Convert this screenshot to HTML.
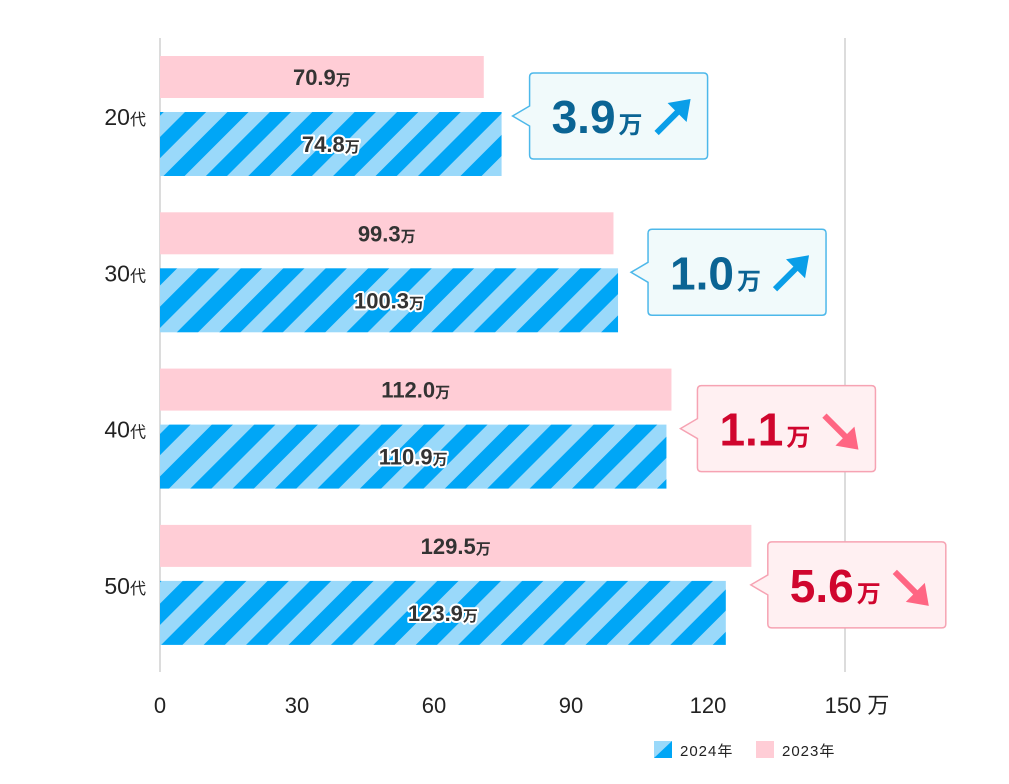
<!DOCTYPE html>
<html><head><meta charset="utf-8"><style>
html,body{margin:0;padding:0;background:#fff;}
svg{display:block;font-family:"Liberation Sans","Noto Sans CJK JP",sans-serif;}
</style></head><body>
<svg id="chart" width="1009" height="784" viewBox="0 0 1009 784">
<defs>
<pattern id="stripe" patternUnits="userSpaceOnUse" width="30" height="30" patternTransform="rotate(45)">
<rect width="30" height="30" fill="#9ad9fa"/><rect width="15" height="30" fill="#00a6f6"/>
</pattern>
</defs>
<g id="grid"></g><g id="bars"></g><g id="labels"></g>
<g>
<rect x="654" y="741" width="18" height="17" fill="#9ad9fa"/>
<polygon points="672,741 672,758 654,758" fill="#00a6f6"/>
<text x="680" y="756" font-size="15" fill="#222" letter-spacing="1">2024年</text>
<rect x="756" y="741" width="18" height="17" fill="#ffcdd6"/>
<text x="782" y="756" font-size="15" fill="#222" letter-spacing="1">2023年</text>
</g>
</svg>
<script>
const categories=["20","30","40","50"];
const values2023=[70.9,99.3,112.0,129.5];
const values2024=[74.8,100.3,110.9,123.9];
const xTicks=[0,30,60,90,120,150];
const NS="http://www.w3.org/2000/svg";
const x0=160,scale=(845-160)/150;
const X=v=>x0+v*scale;
const groupTop=i=>56+i*156.3;
const calloutGap=[28,30,31,42];
function mk(tag,attrs,parent,txt){const e=document.createElementNS(NS,tag);for(const k in attrs)e.setAttribute(k,attrs[k]);if(txt!==undefined)e.textContent=txt;parent.appendChild(e);return e;}
const grid=document.getElementById('grid'),bars=document.getElementById('bars'),labels=document.getElementById('labels');
[0,150].forEach(v=>{const l=mk('line',{x1:X(v),x2:X(v),y1:38,y2:672,stroke:'#dcdcdc','stroke-width':2},grid);

});
xTicks.forEach((v,k)=>{const last=k===xTicks.length-1;
const t=mk('text',{x:X(v)+(last?12:0),y:713,'font-size':22,'text-anchor':'middle',fill:'#222'},labels,String(v)+(last?' 万':''));

});
function valLabel(cx,cy,v,outline){
 const t=mk('text',{x:cx,y:cy+8,'text-anchor':'middle','font-weight':'bold','font-size':22,fill:'#333'},labels);
 if(outline){t.setAttribute('stroke','#fff');t.setAttribute('stroke-width','4');t.setAttribute('paint-order','stroke');t.setAttribute('stroke-linejoin','round');}
 
 
 mk('tspan',{},t,v.toFixed(1));mk('tspan',{'font-size':15},t,'万');
}
categories.forEach((c,i)=>{
 const top=groupTop(i);
 const p=mk('rect',{x:x0,y:top,width:X(values2023[i])-x0,height:42,fill:'#ffcdd6'},bars);
 
 
 const b=mk('rect',{x:x0,y:top+56,width:X(values2024[i])-x0,height:64,fill:'url(#stripe)'},bars);
 
 
 valLabel((x0+X(values2023[i]))/2,top+21,values2023[i],false);
 valLabel((x0+X(values2024[i]))/2,top+88,values2024[i],true);
 const yl=mk('text',{x:146,y:top+69,'text-anchor':'end','font-size':23,fill:'#222'},labels);
 
 
 mk('tspan',{},yl,c);mk('tspan',{'font-size':16},yl,'代');
 const diff=values2024[i]-values2023[i];
 const up=diff>=0;
 const bx=X(values2024[i])+calloutGap[i], cy=top+60, by=cy-43, bw=178, bh=86;
 const g=mk('g',{},labels);
 
 
 const stroke=up?'#4db8ea':'#f6a3b3', fill=up?'#f1fafb':'#fff0f2', tc=up?'#0b6494':'#d0062e', ac=up?'#0a9ee8':'#ff6683';
 mk('path',{d:`M${bx+4},${by} H${bx+bw-4} Q${bx+bw},${by} ${bx+bw},${by+4} V${by+bh-4} Q${bx+bw},${by+bh} ${bx+bw-4},${by+bh} H${bx+4} Q${bx},${by+bh} ${bx},${by+bh-4} V${cy+10} L${bx-17},${cy} L${bx},${cy-10} V${by+4} Q${bx},${by} ${bx+4},${by} Z`,fill:fill,stroke:stroke,'stroke-width':1.5},g);
 const t=mk('text',{x:bx+22,y:cy+17,'font-weight':'bold','font-size':46,fill:tc},g);
 mk('tspan',{},t,Math.abs(diff).toFixed(1));mk('tspan',{'font-size':24,dx:3},t,'万');
 const ax=bx+145, ay=cy+2;
 if(up){mk('line',{x1:ax-18,y1:ay+15,x2:ax+8,y2:ay-11,stroke:ac,'stroke-width':6},g);mk('polygon',{points:`${ax+16},${ay-19} ${ax+12},${ay+4} ${ax-7},${ay-15}`,fill:ac},g);}
 else{mk('line',{x1:ax-18,y1:ay-15,x2:ax+8,y2:ay+11,stroke:ac,'stroke-width':6},g);mk('polygon',{points:`${ax+16},${ay+19} ${ax+12},${ay-4} ${ax-7},${ay+15}`,fill:ac},g);}
});
</script>
</body></html>
